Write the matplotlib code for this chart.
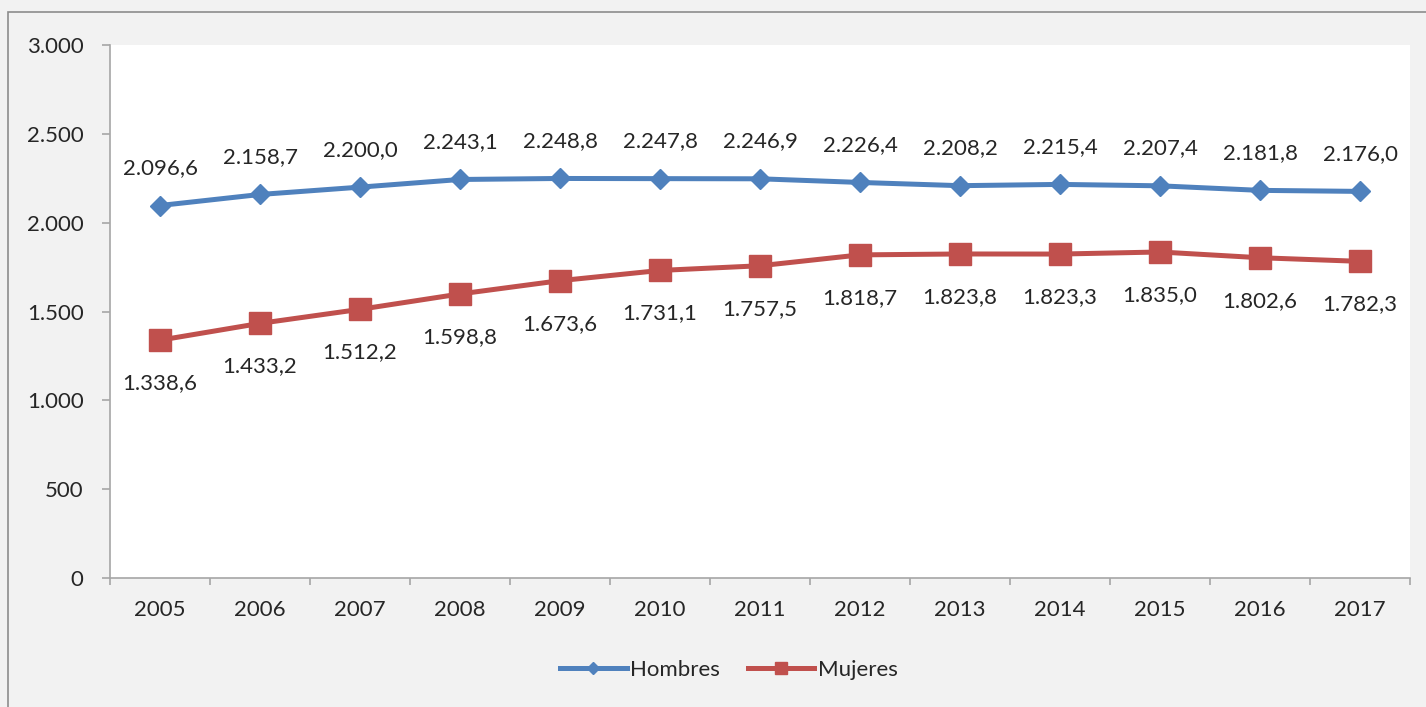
import matplotlib.pyplot as plt
from matplotlib.lines import Line2D
from matplotlib.patches import Rectangle
from matplotlib.ticker import FuncFormatter, FixedLocator

plt.rcParams['font.family'] = ['Lato', 'DejaVu Sans']

# Data
years = ["2005", "2006", "2007", "2008", "2009", "2010", "2011",
         "2012", "2013", "2014", "2015", "2016", "2017"]
hombres = [2096.6, 2158.7, 2200.0, 2243.1, 2248.8, 2247.8, 2246.9,
           2226.4, 2208.2, 2215.4, 2207.4, 2181.8, 2176.0]
mujeres = [1338.6, 1433.2, 1512.2, 1598.8, 1673.6, 1731.1, 1757.5,
           1818.7, 1823.8, 1823.3, 1835.0, 1802.6, 1782.3]

blue = "#4f81bd"
red = "#c0504d"
axis_grey = "#a6a6a6"
text_col = "#262626"
fs = 16


def es_num(v, decimals=1):
    s = f"{v:,.{decimals}f}"
    return s.replace(",", "X").replace(".", ",").replace("X", ".")


fig = plt.figure(figsize=(14.26, 7.07), dpi=100)
fig.patch.set_facecolor("#f2f2f2")
# outer chart border
fig.patches.append(Rectangle((8 / 1426, -0.1), 1.2, 1 - 12 / 707 + 0.1,
                             transform=fig.transFigure, fill=False,
                             edgecolor="#8c8c8c", linewidth=1.2))

ax = fig.add_axes([110 / 1426, 1 - 578 / 707, 1300 / 1426, 533 / 707])
ax.set_facecolor("white")

x = list(range(len(years)))
ax.plot(x, hombres, color=blue, linewidth=3.6, marker="D", markersize=10,
        solid_capstyle="round", zorder=3)
ax.plot(x, mujeres, color=red, linewidth=3.6, marker="s", markersize=16,
        solid_capstyle="round", zorder=3)

for xi, v in zip(x, hombres):
    ax.annotate(es_num(v), (xi, v), xytext=(0, 27), textcoords="offset points",
                ha="center", va="center", fontsize=fs, color=text_col)
for xi, v in zip(x, mujeres):
    ax.annotate(es_num(v), (xi, v), xytext=(0, -31), textcoords="offset points",
                ha="center", va="center", fontsize=fs, color=text_col)

ax.set_xlim(-0.5, len(years) - 0.5)
ax.set_ylim(0, 3000)
ax.set_yticks(range(0, 3001, 500))
ax.yaxis.set_major_formatter(FuncFormatter(lambda v, p: es_num(v, 0)))
ax.set_xticks(x)
ax.set_xticklabels(years)
ax.xaxis.set_minor_locator(FixedLocator([i - 0.5 for i in range(len(years) + 1)]))

for side in ["top", "right"]:
    ax.spines[side].set_visible(False)
for side in ["left", "bottom"]:
    ax.spines[side].set_color(axis_grey)
    ax.spines[side].set_linewidth(1.2)

ax.tick_params(axis="y", length=6, width=1.2, color=axis_grey, pad=13,
               labelsize=fs, labelcolor=text_col)
ax.tick_params(axis="x", which="major", length=0, pad=16,
               labelsize=fs, labelcolor=text_col)
ax.tick_params(axis="x", which="minor", length=5, width=1.2, color=axis_grey)

handles = [
    Line2D([], [], color=blue, linewidth=3.6, marker="D", markersize=6),
    Line2D([], [], color=red, linewidth=3.6, marker="s", markersize=8),
]
fig.legend(handles, ["Hombres", "Mujeres"], loc="center",
           bbox_to_anchor=(0.511, 0.052), ncol=2, frameon=False,
           handlelength=3.0, handletextpad=0.15, columnspacing=1.25,
           fontsize=fs, labelcolor=text_col)

fig.savefig("out.png", dpi=100, facecolor=fig.get_facecolor())
